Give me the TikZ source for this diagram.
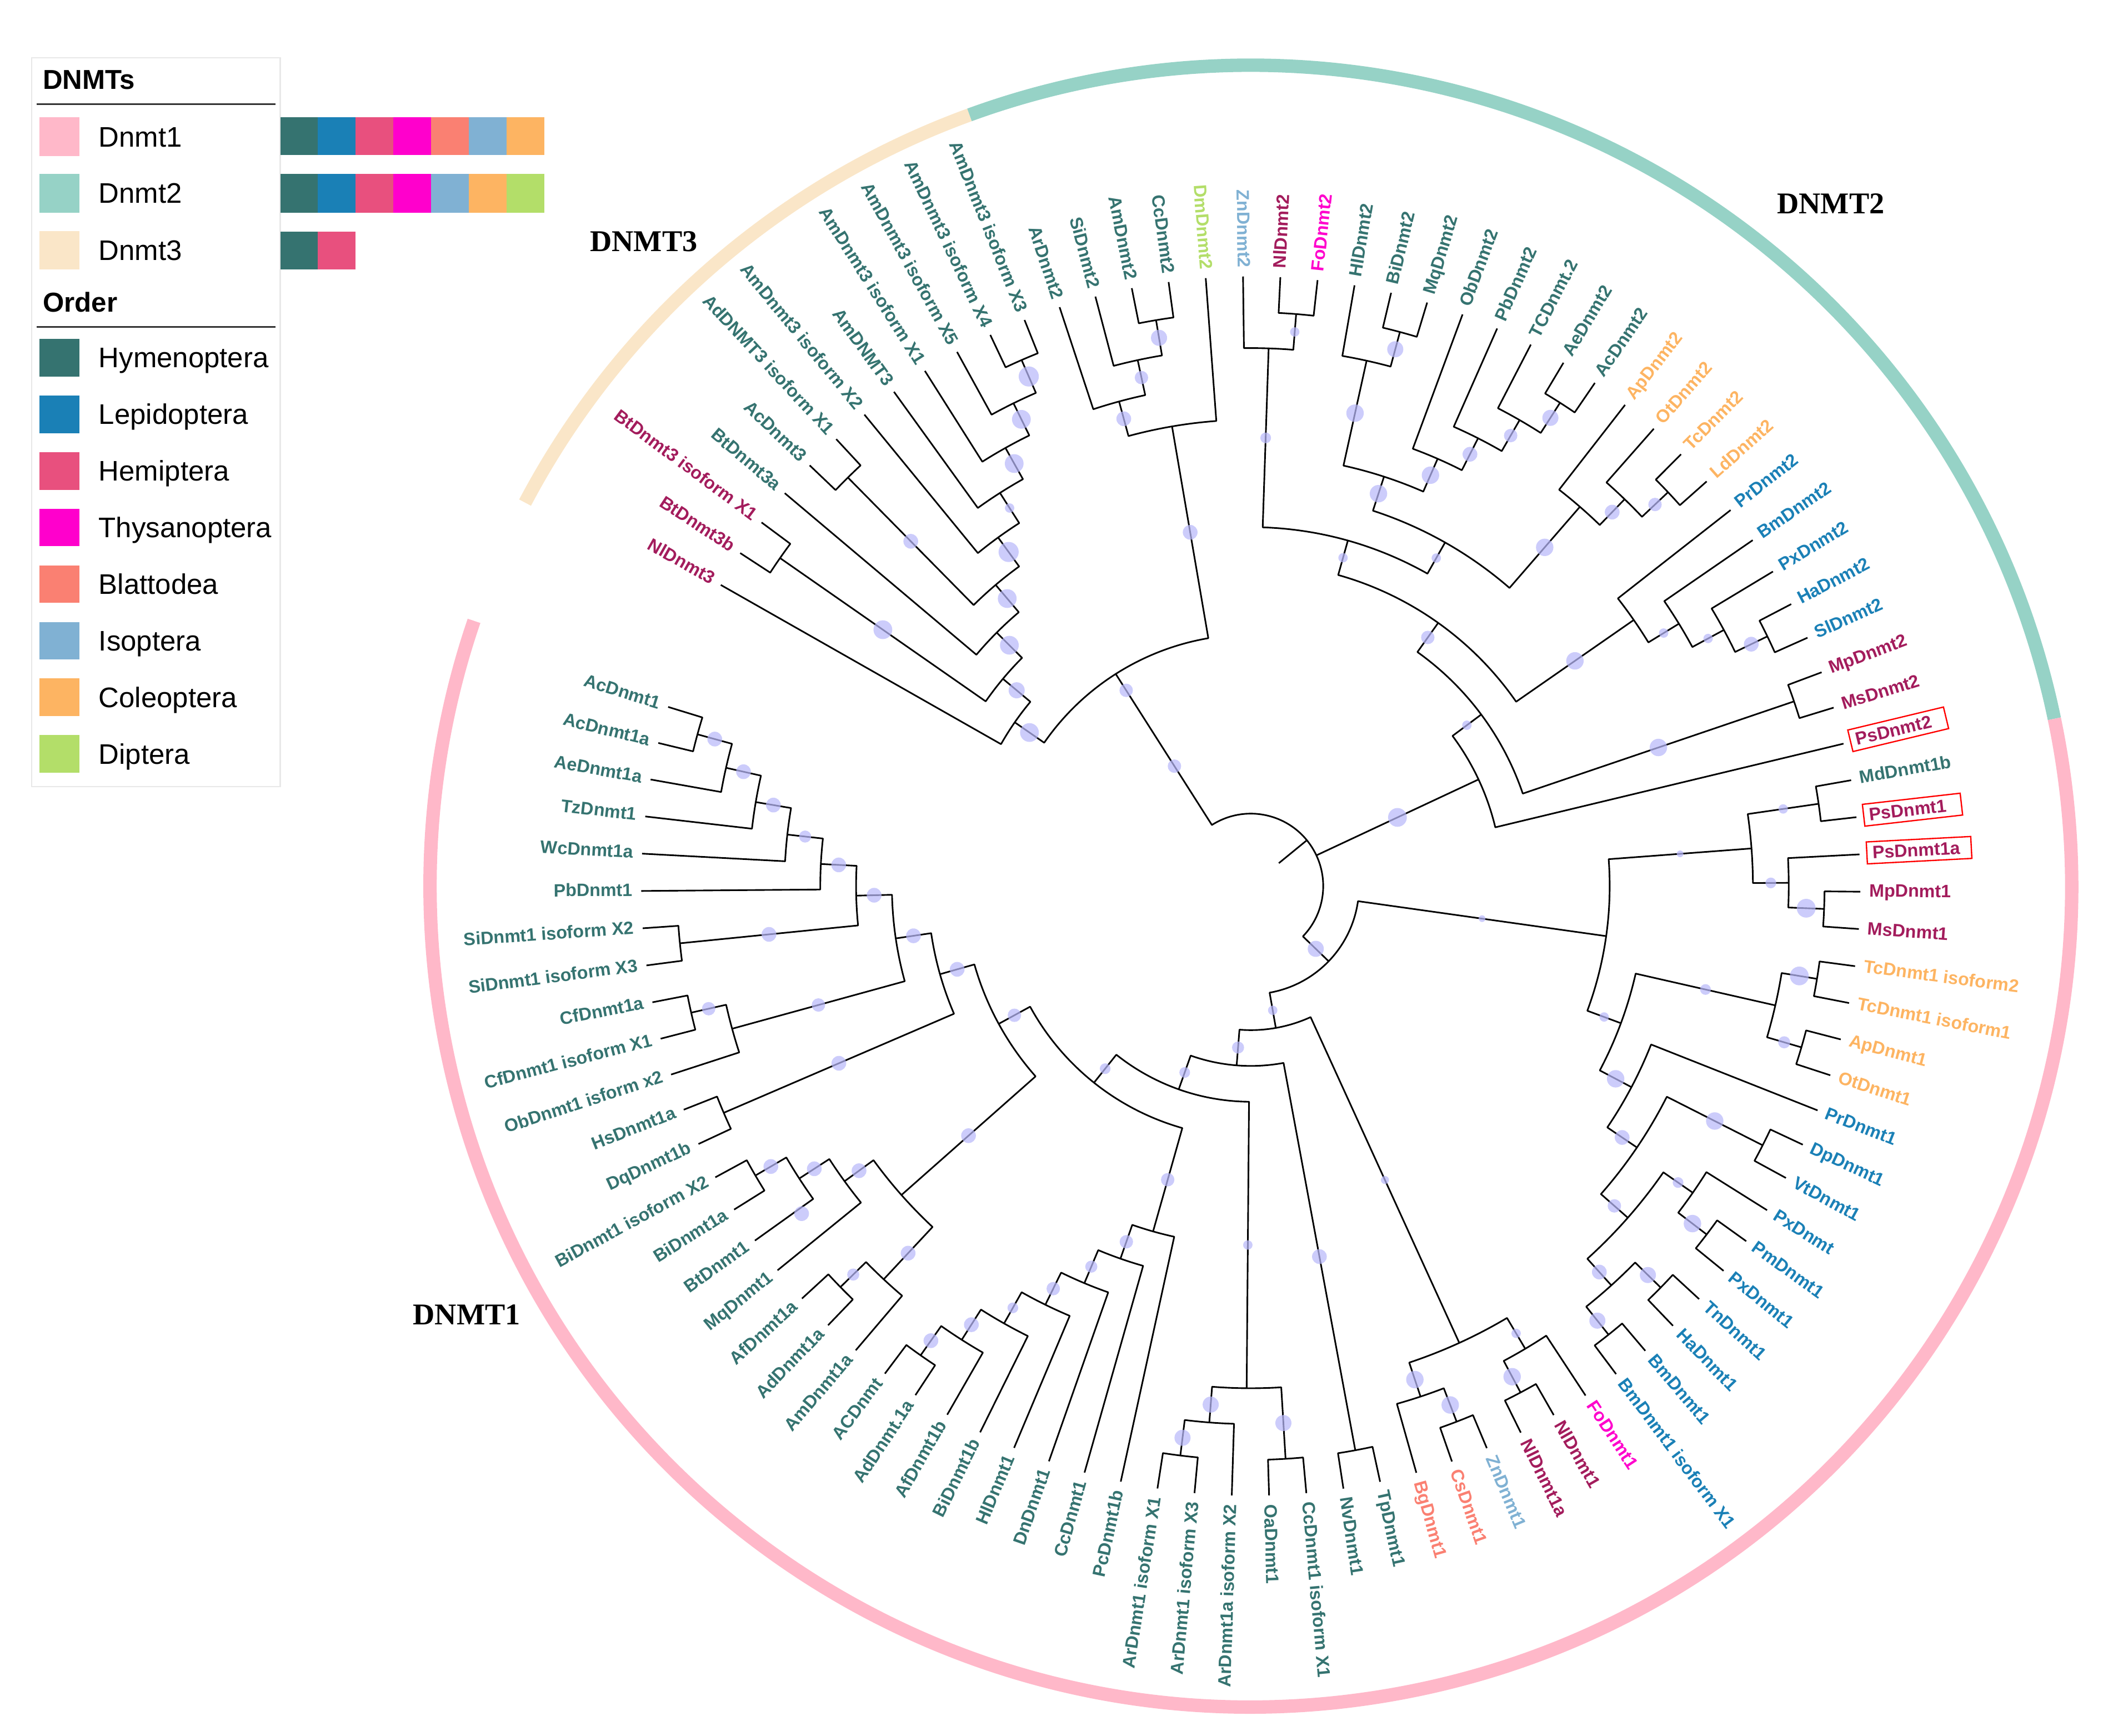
\documentclass[tikz,border=0pt]{standalone}
\usepackage{fontspec}
\setmainfont{Liberation Sans}
\newfontfamily\cladefont{Liberation Serif}

\definecolor{hymc}{RGB}{53,115,112}
\definecolor{lepc}{RGB}{26,128,182}
\definecolor{hemc}{RGB}{232,80,126}
\definecolor{hemt}{RGB}{163,28,92}
\definecolor{thyc}{RGB}{255,0,204}
\definecolor{blac}{RGB}{250,128,114}
\definecolor{isoc}{RGB}{128,177,211}
\definecolor{colc}{RGB}{253,180,98}
\definecolor{dipc}{RGB}{179,222,105}
\definecolor{dnmtA}{RGB}{255,184,201}
\definecolor{dnmtB}{RGB}{150,210,198}
\definecolor{dnmtC}{RGB}{250,230,200}
\definecolor{bootc}{RGB}{185,185,250}

% tips sit on one circle, each level of the cladogram is one step inwards
\def\tipr{454.5}
\def\lev{26.7}

% \lf[style]{index}{colour}{label}
\newcommand{\lf}[4][]{%
  \pgfmathsetmacro\trla{150.4-(#2-1)*3.51}%
  \pgfmathsetmacro\trlr{\tipr+5}%
  \expandafter\xdef\csname ang@t#2\endcsname{\trla}%
  \expandafter\xdef\csname ht@t#2\endcsname{0}%
  \pgfmathtruncatemacro\trflip{(\trla>90)||(\trla<-90)}%
  \ifnum\trflip=1
    \node[leaf,text=#3,anchor=mid east,rotate=\trla+180,#1] (t#2) at (\trla:\trlr) {#4};%
  \else
    \node[leaf,text=#3,anchor=mid west,rotate=\trla,#1] (t#2) at (\trla:\trlr) {#4};%
  \fi
}
% \cl{name}{level}{child}{child}
\newcommand{\cl}[4]{%
  \pgfmathsetmacro\trca{\csname ang@#3\endcsname}%
  \pgfmathsetmacro\trcb{\csname ang@#4\endcsname}%
  \pgfmathsetmacro\trr{\tipr-#2*\lev}%
  \pgfmathsetmacro\tra{\tipr-\csname ht@#3\endcsname*\lev}%
  \pgfmathsetmacro\trb{\tipr-\csname ht@#4\endcsname*\lev}%
  \pgfmathsetmacro\trm{(\trca+\trcb)/2}%
  \draw[branch] (\trca:\tra) -- (\trca:\trr) arc[start angle=\trca,end angle=\trcb,radius=\trr] -- (\trcb:\trb);
  \coordinate (#1) at (\trm:\trr);
  \expandafter\xdef\csname ang@#1\endcsname{\trm}%
  \expandafter\xdef\csname ht@#1\endcsname{#2}%
  \expandafter\xdef\csname pa@#3\endcsname{#2}%
  \expandafter\xdef\csname pa@#4\endcsname{#2}%
}
% \bs{name}{size}: support dot half way up the branch of a clade
\newcommand{\bs}[2]{%
  \pgfmathsetmacro\trca{\csname ang@#1\endcsname}%
  \pgfmathsetmacro\trr{\tipr-(\csname ht@#1\endcsname+\csname pa@#1\endcsname)*\lev/2}%
  \fill[boot] (\trca:\trr) circle[radius=#2];
}

\begin{document}
\begin{tikzpicture}[x=0.025cm, y=0.025cm,
  branch/.style={line width=0.85pt, line join=round},
  boot/.style={bootc, fill opacity=0.72},
  ring/.style={line width=7.1pt},
  leaf/.style={font=\bfseries\fontsize{9.5}{11}\selectfont, inner sep=1pt},
  box/.style={draw=red, line width=0.7pt, inner xsep=3pt, inner ysep=2.5pt},
  clade/.style={font=\cladefont\bfseries\fontsize{16}{18}\selectfont},
  legtext/.style={font=\fontsize{15}{18}\selectfont, inner sep=0pt, anchor=base west},
  leghead/.style={font=\bfseries\fontsize{14.5}{18}\selectfont, inner sep=0pt, anchor=base west}]
  \useasboundingbox (-932.6,-633.4) rectangle (635.4,660.6);

  % outer rings
  \draw[ring, dnmtC] (152.15:612) arc[start angle=152.15, end angle=110.04, radius=612];
  \draw[ring, dnmtB] (110.04:612) arc[start angle=110.04, end angle=11.76, radius=612];
  \draw[ring, dnmtA] (11.76:612) arc[start angle=11.76, end angle=-198.85, radius=612];

  % tips: DNMT3
  \lf{1}{hemt}{NlDnmt3}
  \lf{2}{hemt}{BtDnmt3b}
  \lf{3}{hemt}{BtDnmt3 isoform X1}
  \lf{4}{hymc}{BtDnmt3a}
  \lf{5}{hymc}{AcDnmt3}
  \lf{6}{hymc}{AdDNMT3 isoform X1}
  \lf{7}{hymc}{AmDnmt3 isoform X2}
  \lf{8}{hymc}{AmDNMT3}
  \lf{9}{hymc}{AmDnmt3 isoform X1}
  \lf{10}{hymc}{AmDnmt3 isoform X5}
  \lf{11}{hymc}{AmDnmt3 isoform X4}
  \lf{12}{hymc}{AmDnmt3 isoform X3}
  % tips: DNMT2
  \lf{13}{hymc}{ArDnmt2}
  \lf{14}{hymc}{SiDnmt2}
  \lf{15}{hymc}{AmDnmt2}
  \lf{16}{hymc}{CcDnmt2}
  \lf{17}{dipc}{DmDnmt2}
  \lf{18}{isoc}{ZnDnmt2}
  \lf{19}{hemt}{NlDnmt2}
  \lf{20}{thyc}{FoDnmt2}
  \lf{21}{hymc}{HlDnmt2}
  \lf{22}{hymc}{BiDnmt2}
  \lf{23}{hymc}{MqDnmt2}
  \lf{24}{hymc}{ObDnmt2}
  \lf{25}{hymc}{PbDnmt2}
  \lf{26}{hymc}{TCDnmt.2}
  \lf{27}{hymc}{AeDnmt2}
  \lf{28}{hymc}{AcDnmt2}
  \lf{29}{colc}{ApDnmt2}
  \lf{30}{colc}{OtDnmt2}
  \lf{31}{colc}{TcDnmt2}
  \lf{32}{colc}{LdDnmt2}
  \lf{33}{lepc}{PrDnmt2}
  \lf{34}{lepc}{BmDnmt2}
  \lf{35}{lepc}{PxDnmt2}
  \lf{36}{lepc}{HaDnmt2}
  \lf{37}{lepc}{SlDnmt2}
  \lf{38}{hemt}{MpDnmt2}
  \lf{39}{hemt}{MsDnmt2}
  \lf[box]{40}{hemt}{PsDnmt2\hspace*{5pt}}
  % tips: DNMT1
  \lf{41}{hymc}{MdDnmt1b}
  \lf[box]{42}{hemt}{PsDnmt1\hspace*{5pt}}
  \lf[box]{43}{hemt}{PsDnmt1a\hspace*{3pt}}
  \lf{44}{hemt}{MpDnmt1}
  \lf{45}{hemt}{MsDnmt1}
  \lf{46}{colc}{TcDnmt1 isoform2}
  \lf{47}{colc}{TcDnmt1 isoform1}
  \lf{48}{colc}{ApDnmt1}
  \lf{49}{colc}{OtDnmt1}
  \lf{50}{lepc}{PrDnmt1}
  \lf{51}{lepc}{DpDnmt1}
  \lf{52}{lepc}{VtDnmt1}
  \lf{53}{lepc}{PxDnmt}
  \lf{54}{lepc}{PmDnmt1}
  \lf{55}{lepc}{PxDnmt1}
  \lf{56}{lepc}{TnDnmt1}
  \lf{57}{lepc}{HaDnmt1}
  \lf{58}{lepc}{BmDnmt1}
  \lf{59}{lepc}{BmDnmt1 isoform X1}
  \lf{60}{thyc}{FoDnmt1}
  \lf{61}{hemt}{NlDnmt1}
  \lf{62}{hemt}{NlDnmt1a}
  \lf{63}{isoc}{ZnDnmt1}
  \lf{64}{blac}{CsDnmt1}
  \lf{65}{blac}{BgDnmt1}
  \lf{66}{hymc}{TpDnmt1}
  \lf{67}{hymc}{NvDnmt1}
  \lf{68}{hymc}{CcDnmt1 isoform X1}
  \lf{69}{hymc}{OaDnmt1}
  \lf{70}{hymc}{ArDnmt1a isoform X2}
  \lf{71}{hymc}{ArDnmt1 isoform X3}
  \lf{72}{hymc}{ArDnmt1 isoform X1}
  \lf{73}{hymc}{PcDnmt1b}
  \lf{74}{hymc}{CcDnmt1}
  \lf{75}{hymc}{DnDnmt1}
  \lf{76}{hymc}{HlDnmt1}
  \lf{77}{hymc}{BiDnmt1b}
  \lf{78}{hymc}{AfDnmt1b}
  \lf{79}{hymc}{AdDnmt.1a}
  \lf{80}{hymc}{ACDnmt}
  \lf{81}{hymc}{AmDnmt1a}
  \lf{82}{hymc}{AdDnmt1a}
  \lf{83}{hymc}{AfDnmt1a}
  \lf{84}{hymc}{MqDnmt1}
  \lf{85}{hymc}{BtDnmt1}
  \lf{86}{hymc}{BiDnmt1a}
  \lf{87}{hymc}{BiDnmt1 isoform X2}
  \lf{88}{hymc}{DqDnmt1b}
  \lf{89}{hymc}{HsDnmt1a}
  \lf{90}{hymc}{ObDnmt1 isform x2}
  \lf{91}{hymc}{CfDnmt1 isoform X1}
  \lf{92}{hymc}{CfDnmt1a}
  \lf{93}{hymc}{SiDnmt1 isoform X3}
  \lf{94}{hymc}{SiDnmt1 isoform X2}
  \lf{95}{hymc}{PbDnmt1}
  \lf{96}{hymc}{WcDnmt1a}
  \lf{97}{hymc}{TzDnmt1}
  \lf{98}{hymc}{AeDnmt1a}
  \lf{99}{hymc}{AcDnmt1a}
  \lf{100}{hymc}{AcDnmt1}

  % clades: DNMT3 and first DNMT2 group
  \cl{a1}{1}{t11}{t12}
  \cl{a2}{2}{t10}{a1}
  \cl{a3}{3}{t9}{a2}
  \cl{a4}{4}{t8}{a3}
  \cl{a5}{5}{t7}{a4}
  \cl{a6}{1}{t5}{t6}
  \cl{a7}{6}{a6}{a5}
  \cl{a8}{7}{t4}{a7}
  \cl{b1}{1}{t2}{t3}
  \cl{a9}{8}{b1}{a8}
  \cl{a10}{9}{t1}{a9}
  \cl{d4}{1}{t15}{t16}
  \cl{d3}{2}{t14}{d4}
  \cl{d2}{3}{t13}{d3}
  \cl{d1}{4}{d2}{t17}
  \cl{r1}{10}{a10}{d1}
  % clades: DNMT2
  \cl{e1}{1}{t19}{t20}
  \cl{e2}{2}{t18}{e1}
  \cl{f1}{1}{t22}{t23}
  \cl{f2}{2}{t21}{f1}
  \cl{g1}{1}{t27}{t28}
  \cl{g2}{2}{t26}{g1}
  \cl{f3}{3}{t25}{g2}
  \cl{f4}{4}{t24}{f3}
  \cl{f5}{5}{f2}{f4}
  \cl{h1}{1}{t31}{t32}
  \cl{h2}{2}{t30}{h1}
  \cl{h3}{3}{t29}{h2}
  \cl{x6}{6}{f5}{h3}
  \cl{e7}{7}{e2}{x6}
  \cl{l1}{1}{t36}{t37}
  \cl{l2}{2}{t35}{l1}
  \cl{l3}{3}{t34}{l2}
  \cl{l4}{4}{t33}{l3}
  \cl{y8}{8}{e7}{l4}
  \cl{m1}{1}{t38}{t39}
  \cl{y9}{9}{y8}{m1}
  \cl{z10}{10}{y9}{t40}
  % clades: DNMT1
  \cl{p1}{1}{t41}{t42}
  \cl{p2}{1}{t44}{t45}
  \cl{p3}{2}{t43}{p2}
  \cl{p4}{3}{p1}{p3}
  \cl{c1}{1}{t46}{t47}
  \cl{c2}{1}{t48}{t49}
  \cl{c3}{2}{c1}{c2}
  \cl{lp1}{1}{t51}{t52}
  \cl{lx1}{1}{t54}{t55}
  \cl{lx2}{2}{t53}{lx1}
  \cl{lt1}{1}{t56}{t57}
  \cl{lb1}{1}{t58}{t59}
  \cl{lt2}{2}{lt1}{lb1}
  \cl{k3}{3}{lx2}{lt2}
  \cl{k4}{4}{lp1}{k3}
  \cl{k5}{5}{t50}{k4}
  \cl{k6}{6}{c3}{k5}
  \cl{k7}{7}{p4}{k6}
  \cl{v1}{1}{t61}{t62}
  \cl{v2}{2}{t60}{v1}
  \cl{w1}{1}{t63}{t64}
  \cl{w2}{2}{t65}{w1}
  \cl{w3}{3}{v2}{w2}
  \cl{n1}{1}{t66}{t67}
  \cl{o1}{1}{t68}{t69}
  \cl{o2a}{1}{t71}{t72}
  \cl{o2}{2}{t70}{o2a}
  \cl{o3}{3}{o2}{o1}
  \cl{q1}{1}{t79}{t80}
  \cl{q2}{2}{t78}{q1}
  \cl{q3}{3}{t77}{q2}
  \cl{q4}{4}{t76}{q3}
  \cl{q5}{5}{t75}{q4}
  \cl{q6}{6}{t74}{q5}
  \cl{q7}{7}{t73}{q6}
  \cl{u1}{1}{t82}{t83}
  \cl{u2}{2}{t81}{u1}
  \cl{s1}{1}{t86}{t87}
  \cl{s2}{2}{t85}{s1}
  \cl{s3}{3}{t84}{s2}
  \cl{s4}{4}{u2}{s3}
  \cl{hs1}{1}{t88}{t89}
  \cl{cf1}{1}{t91}{t92}
  \cl{cf2}{2}{t90}{cf1}
  \cl{si1}{1}{t93}{t94}
  \cl{z1}{1}{t99}{t100}
  \cl{z2}{2}{t98}{z1}
  \cl{z3}{3}{t97}{z2}
  \cl{z4}{4}{t96}{z3}
  \cl{z5}{5}{t95}{z4}
  \cl{z6}{6}{z5}{si1}
  \cl{z7}{7}{z6}{cf2}
  \cl{z8}{8}{z7}{hs1}
  \cl{n9}{9}{s4}{z8}
  \cl{n10}{10}{q7}{n9}
  \cl{n11}{11}{o3}{n10}
  \cl{n12}{12}{n1}{n11}
  \cl{n13}{13}{w3}{n12}
  \cl{n14}{14}{k7}{n13}

  % root with three children
  \pgfmathsetmacro\trca{\csname ang@r1\endcsname}
  \pgfmathsetmacro\trcb{\csname ang@n14\endcsname}
  \pgfmathsetmacro\trm{\csname ang@z10\endcsname}
  \pgfmathsetmacro\trr{\tipr-15*\lev}
  \pgfmathsetmacro\tra{\tipr-10*\lev}
  \pgfmathsetmacro\trb{\tipr-14*\lev}
  \draw[branch] (\trca:\tra) -- (\trca:\trr) arc[start angle=\trca, end angle=\trcb, radius=\trr] -- (\trcb:\trb);
  \draw[branch] (\trm:\trr) -- (\trm:\tra);
  \pgfmathsetmacro\trla{(\trca+\trcb)/2}
  \draw[branch] (\trla:\trr) -- (\trla:\trr/2);
  \coordinate (root) at (\trla:\trr);
  \expandafter\xdef\csname pa@z10\endcsname{15}
  \expandafter\xdef\csname pa@n14\endcsname{15}

  % support dots
  \foreach \n/\s in {a1/7.5,a2/7,a3/7,a4/3.5,a5/7.5,a6/5.5,a7/7,a8/7,a9/6,a10/7,b1/7,
      d4/6,d3/5,d2/5.5,d1/5.5,e1/3.5,e2/4,f1/6,f2/6.5,f3/5.5,f4/6.5,f5/6.5,g1/6,g2/5,
      h1/5,h2/5.5,h3/6.5,x6/3.5,e7/3.5,y8/5,y9/3.5,l1/5.5,l2/3.5,l3/3.5,l4/6.5,m1/6.5,
      z10/7,n14/6,k7/2.5,p1/3.5,p2/7,p3/4,p4/2.5,c1/7,c2/4.5,c3/4,k6/3.5,k5/6.5,lp1/6.5,
      k4/5.5,k3/5,lx2/4,lx1/6.5,lt2/5.5,lt1/6,lb1/6,w1/6.5,w2/6.5,v1/6.5,v2/3.5,w3/3,
      n13/3.5,n12/4.5,n1/5.5,n11/4,o3/3.5,n10/4,q7/5,q6/5,q5/4.5,q4/5,q3/4,q2/5.5,q1/5.5,
      o1/6,o2/6,o2a/6,n9/5,s4/5.5,z8/5.5,u1/4.5,u2/5.5,s1/5.5,s2/5.5,s3/5.5,hs1/5.5,
      z7/5.5,z6/5.5,cf2/5,cf1/5,si1/5.5,z5/5.5,z4/4.5,z3/5.5,z2/5.5,z1/5.5}
    {\bs{\n}{\s}}
  \fill[boot] (\trca:106) circle[radius=5];
  \fill[boot] (\trca:173) circle[radius=5];
  \fill[boot] (-143.9:414.5) circle[radius=5.5];

  % clade titles
  \node[clade] (lab3) at (-452.6,480.6) {DNMT3};
  \node[clade] (lab2) at (432.4,508.6) {DNMT2};
  \node[clade] (lab1) at (-584.6,-319.4) {DNMT1};

  % legend
  \draw[line width=0.7pt, black!9] (-909,617.6) rectangle (-723.6,74.1);
  \node[leghead] (hdnmt) at (-900.8,594.1) {DNMTs};
  \draw[line width=0.9pt, black!80] (-905.3,582.8) -- (-727.3,582.8);
  \foreach \txt/\col/\yc in {Dnmt1/dnmtA/558.6, Dnmt2/dnmtB/516.5, Dnmt3/dnmtC/474.1}{
    \fill[\col] (-903.3,\yc-14.4) rectangle (-873.4,\yc+14.4);
    \node[legtext] (g\txt) at (-859.2,\yc-7.4) {\txt};
  }
  \node[leghead] (horder) at (-900.8,427.9) {Order};
  \draw[line width=0.9pt, black!80] (-905.3,416.7) -- (-727.3,416.7);
  \foreach \txt/\col/\yc in {Hymenoptera/hymc/393.9, Lepidoptera/lepc/351.7, Hemiptera/hemc/309.5,
      Thysanoptera/thyc/267.3, Blattodea/blac/225.1, Isoptera/isoc/182.9,
      Coleoptera/colc/140.7, Diptera/dipc/98.5}{
    \fill[\col] (-903.3,\yc-14) rectangle (-873.4,\yc+14);
    \node[legtext] (o\txt) at (-859.2,\yc-7.4) {\txt};
  }
  % orders found in each DNMT
  \foreach \c [count=\k from 0] in {hymc,lepc,hemc,thyc,blac,isoc,colc}
    \fill[\c] ({-723.6+28.1*\k},545) rectangle ({-723.6+28.1*(\k+1)},573);
  \foreach \c [count=\k from 0] in {hymc,lepc,hemc,thyc,isoc,colc,dipc}
    \fill[\c] ({-723.6+28.1*\k},502.1) rectangle ({-723.6+28.1*(\k+1)},530.8);
  \foreach \c [count=\k from 0] in {hymc,hemc}
    \fill[\c] ({-723.6+28.1*\k},459.6) rectangle ({-723.6+28.1*(\k+1)},488);
\end{tikzpicture}
\end{document}
